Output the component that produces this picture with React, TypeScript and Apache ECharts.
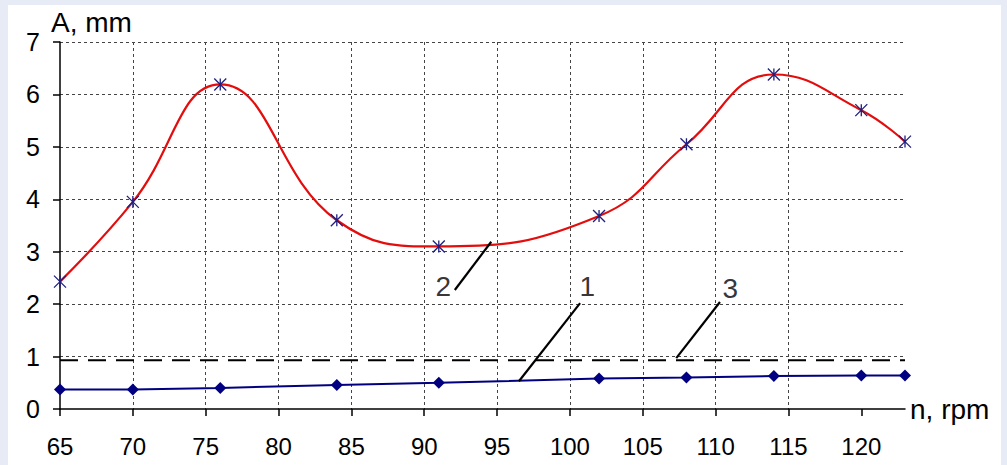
import React, { useEffect, useRef } from "react";
import * as echarts from "echarts";

const rpm = [65, 70, 76, 84, 91, 102, 108, 114, 120, 123];
const amp2 = [2.43, 3.95, 6.19, 3.6, 3.1, 3.68, 5.05, 6.38, 5.7, 5.1];
const amp1 = [0.37, 0.37, 0.4, 0.46, 0.5, 0.58, 0.6, 0.63, 0.64, 0.64];
const amp3Level = 0.93;
const xTicks = [65, 70, 75, 80, 85, 90, 95, 100, 105, 110, 115, 120];
const yTicks = [0, 1, 2, 3, 4, 5, 6, 7];
const callouts = [
  { label: "2", at: [91.3, 2.33], from: [92.1, 2.27], to: [94.6, 3.19] },
  { label: "1", at: [101.2, 2.33], from: [100.7, 2.02], to: [96.5, 0.53] },
  { label: "3", at: [111.0, 2.29], from: [110.3, 2.04], to: [107.3, 0.97] },
];

const FONT = "'Liberation Sans', Arial, sans-serif";
const STAR = "path://M0,0L10,10M10,0L0,10M5,0L5,10";

export default function App() {
  const ref = useRef<HTMLDivElement>(null);
  useEffect(() => {
    if (!ref.current) return;
    const chart = echarts.init(ref.current, undefined, { renderer: "svg" });
    const gridLine = { show: true, lineStyle: { color: "#444", type: [3, 3] as any, width: 1 } };
    chart.setOption({
      animation: false,
      backgroundColor: "#e6ebf6",
      textStyle: { fontFamily: FONT },
      graphic: [
        { type: "rect", z: -10, shape: { x: 8, y: 5, width: 993, height: 460 }, style: { fill: "#ffffff" } },
        { type: "text", left: 51, top: 8, style: { text: "A, mm", font: `28px ${FONT}`, fill: "#000" } },
      ],
      grid: { left: 60, top: 42, right: 102, bottom: 56 },
      xAxis: {
        type: "value",
        min: 65,
        max: 123,
        interval: 5,
        name: "n, rpm",
        nameLocation: "end",
        nameGap: 5,
        nameTextStyle: { fontSize: 28, color: "#000", fontFamily: FONT, verticalAlign: "middle", padding: [2, 0, 0, 0] },
        axisLine: { lineStyle: { color: "#000", width: 1.5 } },
        axisTick: { show: true, length: 7, inside: false, customValues: xTicks, lineStyle: { color: "#000", width: 1.5 } },
        axisLabel: { customValues: xTicks, fontSize: 24, color: "#000", margin: 25, fontFamily: FONT },
        splitLine: { ...gridLine, showMinLine: false, showMaxLine: false },
      },
      yAxis: {
        type: "value",
        min: 0,
        max: 7,
        interval: 1,
        axisLine: { show: true, lineStyle: { color: "#000", width: 1.5 } },
        axisTick: { show: true, length: 7, customValues: yTicks, lineStyle: { color: "#000", width: 1.5 } },
        axisLabel: { fontSize: 25, color: "#000", margin: 20, fontFamily: FONT },
        splitLine: { ...gridLine, showMinLine: false },
      },
      series: [
        {
          type: "line",
          name: "3",
          data: [[65, amp3Level], [123, amp3Level]],
          symbol: "none",
          lineStyle: { color: "#000", width: 2.2, type: [18, 10] as any },
          z: 3,
        },
        {
          type: "line",
          name: "1",
          data: rpm.map((x, i) => [x, amp1[i]]),
          symbol: "diamond",
          symbolSize: 12,
          itemStyle: { color: "#000080" },
          lineStyle: { color: "#000080", width: 2 },
          z: 4,
        },
        {
          type: "line",
          name: "2",
          data: rpm.map((x, i) => [x, amp2[i]]),
          smooth: 0.45,
          symbol: STAR,
          symbolSize: 12,
          showAllSymbol: true,
          itemStyle: { color: "transparent", borderColor: "#1f1f80", borderWidth: 1.3 },
          lineStyle: { color: "#e30d0d", width: 2.2 },
          z: 5,
        },
        ...callouts.map((c) => ({
          type: "line",
          data: [c.from, c.to],
          symbol: "none",
          lineStyle: { color: "#000", width: 2.2 },
          z: 6,
        })),
        {
          type: "scatter",
          data: callouts.map((c) => [c.at[0], c.at[1], c.label]),
          symbolSize: 0,
          label: {
            show: true,
            position: "inside",
            formatter: (p: any) => p.value[2],
            fontSize: 28,
            color: "#000",
            fontFamily: FONT,
          },
          z: 7,
        },
      ],
    });
    return () => chart.dispose();
  }, []);
  return <div ref={ref} style={{ position: "fixed", left: 0, top: 0, width: 1007, height: 465 }} />;
}
